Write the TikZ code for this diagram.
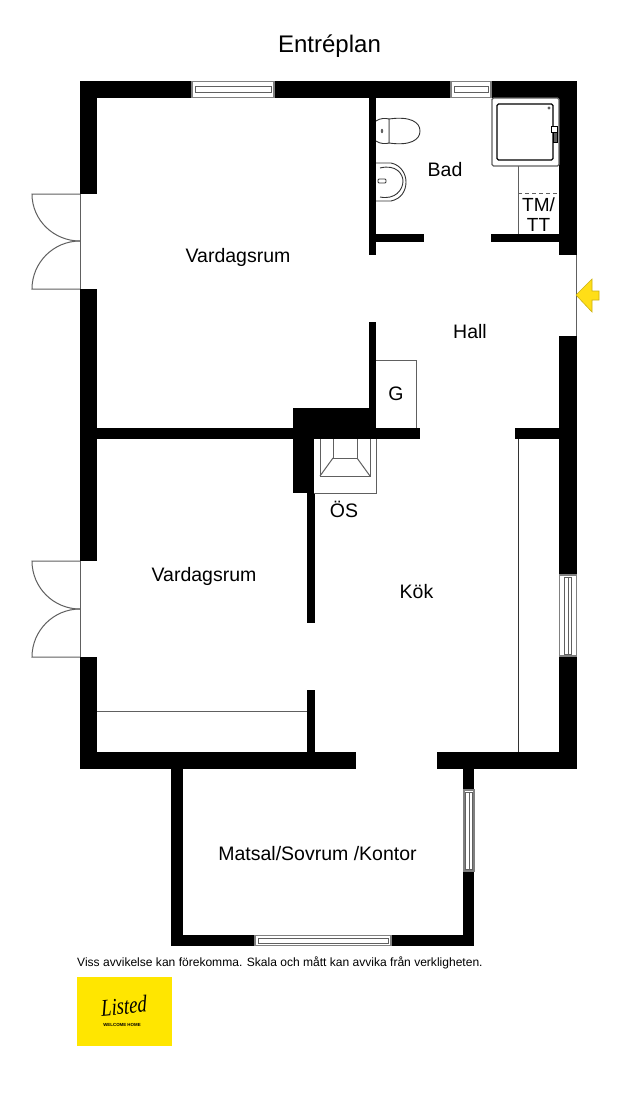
\documentclass[tikz,border=0pt]{standalone}
\usepackage{fontspec}
\setmainfont{Liberation Sans}
\newfontfamily\logofont{Liberation Serif}
\definecolor{logoyellow}{HTML}{FFE600}
\definecolor{arrowyellow}{HTML}{FFDE17}
\definecolor{thingray}{HTML}{606060}
\tikzset{
  wall/.style={fill=black,draw=none},
  thin gray/.style={draw=thingray,line width=1pt},
  fixture/.style={draw=black!80,line width=0.9pt,fill=white},
  winbox/.style={draw=thingray!80,line width=1.2pt,fill=white},
  winline/.style={draw=thingray,line width=0.9pt},
  room/.style={font=\fontsize{19.5}{20}\selectfont,text=black,inner sep=0pt},
  smallroom/.style={font=\fontsize{19}{20}\selectfont,text=black,inner sep=0pt,align=center},
}
\newcommand{\hwin}[5]{% x1 x2 y1 y2 inset
  \fill[white] (#1,#3) rectangle (#2,#4);
  \draw[winbox] (#1,#3) rectangle (#2,#4);
  \draw[winline] ({#1+3},{#3+#5}) rectangle ({#2-3},{#4-#5});
}
\newcommand{\vwin}[5]{% x1 x2 y1 y2 inset
  \fill[white] (#1,#3) rectangle (#2,#4);
  \draw[winbox] (#1,#3) rectangle (#2,#4);
  \draw[winline] ({#1+#5},{#3+2}) rectangle ({#2-#5},{#4-2});
  \draw[winline] ({(#1+#2)/2},{#3+2}) -- ({(#1+#2)/2},{#4-2});
}
\begin{document}
\begin{tikzpicture}[x=1pt,y=-1pt]
\useasboundingbox (0,0) rectangle (631,1101);
\fill[white] (0,0) rectangle (631,1101);

% outer walls
\fill[wall] (80,81) rectangle (577,98);
\fill[wall] (80,81) rectangle (97,194);
\fill[wall] (80,289) rectangle (97,561);
\fill[wall] (80,657) rectangle (97,769);
\fill[wall] (80,752) rectangle (356,769);
\fill[wall] (437,752) rectangle (577,769);
\fill[wall] (559,81) rectangle (577,255);
\fill[wall] (559,336) rectangle (577,769);
% inner walls
\fill[wall] (369,98) rectangle (376,255);
\fill[wall] (376,234) rectangle (424,242);
\fill[wall] (491,234) rectangle (559,242);
\fill[wall] (369,322) rectangle (376,408);
\fill[wall] (293,408) rectangle (376,439);
\fill[wall] (97,428) rectangle (420,439);
\fill[wall] (293,439) rectangle (314,493);
\fill[wall] (307,493) rectangle (315,623);
\fill[wall] (307,690) rectangle (315,752);
\fill[wall] (515,428) rectangle (559,439);
% extension
\fill[wall] (171,769) rectangle (183,946);
\fill[wall] (171,935) rectangle (474,946);
\fill[wall] (463,769) rectangle (474,946);

% windows
\hwin{192}{274}{81.5}{97.5}{5}
\hwin{451}{491}{81.5}{97.5}{5}
\vwin{559.5}{576.5}{575}{656}{5}
\vwin{464}{474}{790}{871}{1.5}
\hwin{255}{391}{935.5}{945.5}{2.5}

% patio doors
\draw[thin gray] (80,194) -- (80,289);
\draw[thin gray] (80,194) -- (32,194) arc[start angle=180,end angle=270,x radius=48,y radius=-47];
\draw[thin gray] (80,289) -- (32,289) arc[start angle=180,end angle=90,x radius=48,y radius=-48];
\draw[thin gray] (80,561) -- (80,657);
\draw[thin gray] (80,561) -- (32,561) arc[start angle=180,end angle=270,x radius=48,y radius=-48];
\draw[thin gray] (80,657) -- (32,657) arc[start angle=180,end angle=90,x radius=48,y radius=-48];

% entry
\draw[thin gray] (576,255) -- (576,336);
\draw[draw=arrowyellow!80!black,fill=arrowyellow,line width=0.6pt]
  (576,295) -- (592,279) -- (592,291) -- (599,291) -- (599,300) -- (592,300) -- (592,312) -- cycle;

% shower
\draw[draw=thingray,line width=1.3pt,rounded corners=1.5pt,fill=white] (492,98) rectangle (559,166);
\draw[draw=black,line width=1.2pt,rounded corners=1.5pt] (497,104) rectangle (553,160);
\fill[thingray] (549,108) circle (1.7);
\draw[draw=black,line width=0.8pt,fill=white] (551,126) rectangle (557,132);
\draw[draw=black,line width=0.8pt,fill=thingray] (553,132) rectangle (557,142);
% wm/dryer
\draw[thin gray] (518,166) -- (518,234);
\draw[thingray,line width=0.7pt,dash pattern=on 4pt off 3pt] (518,193) -- (559,193);

% toilet
\draw[fixture] (389,119) .. controls (410,116) and (420,122) .. (420,131) .. controls (420,140) and (410,146) .. (389,143) -- cycle;
\draw[fixture] (376,121) .. controls (380,118) and (386,118) .. (389,119) -- (389,143) .. controls (386,144) and (380,144) .. (376,141);
\fill[thingray] (382,131) ellipse (1.2 and 2.2);
% sink
\draw[fixture] (376,163) -- (391,163) .. controls (401,165) and (406,174) .. (406,182) .. controls (406,191) and (401,199) .. (391,201) -- (376,201);
\draw[fixture] (380,168) .. controls (396,164) and (403,174) .. (403,181) .. controls (403,190) and (395,200) .. (380,197);
\draw[fixture,rounded corners=1pt] (378,179) rectangle (386,183);

% G closet
\draw[thin gray] (376,360) -- (416,360) -- (416,428);

% fireplace
\draw[thin gray] (376,439) -- (376,493) -- (314,493);
\draw[thin gray] (320,439) -- (320,476) -- (370,476) -- (370,439);
\draw[thin gray] (333,439) -- (333,458) -- (357,458) -- (357,439);
\draw[thin gray] (333,458) -- (320,476);
\draw[thin gray] (357,458) -- (370,476);

% fixtures
\draw[draw=black!80,line width=0.9pt] (518,439) -- (518,752);
\draw[thin gray] (97,711) -- (307,711);

% labels
\node (title) at (329.5,46.5) {\fontsize{24}{26}\selectfont Entréplan};
\node[room] (vard1) at (238,257) {Vardagsrum};
\node[room] (vard2) at (204,576) {Vardagsrum};
\node[room] (bad) at (445,170) {Bad};
\node[smallroom] (tm) at (538.5,215) {TM/\\TT};
\node[room] (hall) at (470,332) {Hall};
\node[room] (g) at (396,394) {G};
\node[room] (os) at (344,509) {ÖS};
\node[room] (kok) at (416.5,592) {Kök};
\node[room] (mat) at (317.5,854) {Matsal/Sovrum /Kontor};
\node[anchor=west,inner sep=0pt,font=\fontsize{12.05}{13}\selectfont] (note) at (77,963) {Viss avvikelse kan förekomma. Skala och mått kan avvika från verkligheten.};

% logo
\fill[logoyellow] (77,977) rectangle (172,1046);
\node[inner sep=0pt,font=\logofont\itshape\fontsize{24}{25}\selectfont,xscale=0.78,rotate=4] (logo) at (124,1006) {Listed};
\node[inner sep=0pt,font=\bfseries\fontsize{4.4}{5}\selectfont] (logotag) at (122,1024.5) {WELCOME HOME};
\end{tikzpicture}
\end{document}
